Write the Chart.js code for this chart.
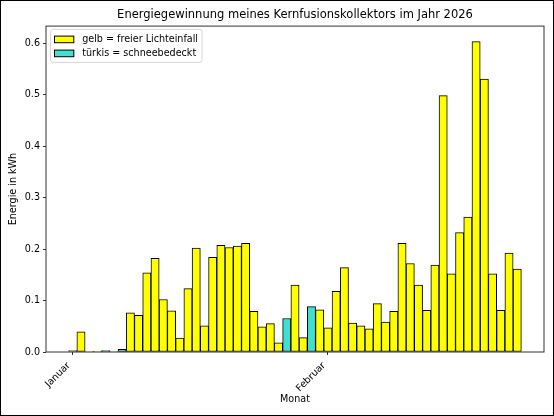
<!DOCTYPE html>
<html>
<head>
<meta charset="utf-8">
<script src="https://cdn.jsdelivr.net/npm/chart.js@4.4.1/dist/chart.umd.min.js"></script>
<style>
  html, body { margin: 0; padding: 0; background: #fff; }
  #wrap { width: 554px; height: 416px; }
</style>
</head>
<body>
<div id="wrap"><canvas id="chart" width="554" height="416"></canvas></div>
<script>
// Tagesertrag in kWh, erster Wert = 1. Januar 2026
const energy = [
  0.003, 0.039, 0.001, 0.0005, 0.003, 0.001, 0.005, 0.076, 0.071, 0.154,
  0.182, 0.102, 0.080, 0.027, 0.123, 0.202, 0.051, 0.184, 0.207, 0.203,
  0.206, 0.211, 0.079, 0.049, 0.055, 0.018, 0.065, 0.130, 0.028, 0.088,
  0.082, 0.047, 0.118, 0.164, 0.056, 0.051, 0.045, 0.094, 0.058, 0.079,
  0.211, 0.172, 0.130, 0.081, 0.169, 0.498, 0.152, 0.232, 0.262, 0.603,
  0.530, 0.152, 0.081, 0.192, 0.161
];
// Tage (Tag im Jahr), an denen der Kollektor eingeschneit war
const snowDays = [5, 7, 27, 30];
// Monatsbeschriftung der x-Achse
const monthDays = [1, 32];
const monthNames = ['Januar', 'Februar'];

const legendItems = [
  { label: 'gelb = freier Lichteinfall', color: '#ffff00' },
  { label: 'türkis = schneebedeckt', color: '#40e0d0' }
];

Chart.defaults.color = '#000';
Chart.defaults.font.family = "'DejaVu Sans', sans-serif";
Chart.defaults.font.size = 9.6;

const points = energy.map((v, i) => ({ x: i + 1, y: v }));
const barColors = energy.map((v, i) => snowDays.includes(i + 1) ? '#40e0d0' : '#ffff00');

// figure border, axes box and the legend in the upper left corner
const frame = {
  id: 'frame',
  afterDatasetsDraw(chart) {
    const { ctx, chartArea: a } = chart;
    ctx.save();
    ctx.strokeStyle = '#333';
    ctx.lineWidth = 1;
    ctx.strokeRect(a.left, a.top, a.right - a.left, a.bottom - a.top);
    ctx.restore();
  },
  afterDraw(chart) {
    const { ctx, chartArea: a } = chart;
    ctx.save();
    ctx.strokeStyle = '#000';
    ctx.lineWidth = 1;
    ctx.strokeRect(0.5, 0.5, chart.width - 1, chart.height - 1);

    // legend
    ctx.font = "9.6px 'DejaVu Sans', sans-serif";
    const textW = Math.max(...legendItems.map(it => ctx.measureText(it.label).width));
    const x0 = a.left + 4.5, y0 = a.top + 3.3;
    const w = 4 + 19.3 + 8.4 + textW + 4, h = 33;
    ctx.beginPath();
    ctx.roundRect(x0, y0, w, h, 2.5);
    ctx.fillStyle = 'rgba(255,255,255,0.8)';
    ctx.fill();
    ctx.strokeStyle = '#d6d6d6';
    ctx.stroke();
    legendItems.forEach((it, k) => {
      const cy = y0 + 10 + k * 14;
      ctx.fillStyle = it.color;
      ctx.fillRect(x0 + 4, cy - 3.3, 19.3, 6.6);
      ctx.strokeStyle = '#000';
      ctx.strokeRect(x0 + 4, cy - 3.3, 19.3, 6.6);
      ctx.fillStyle = '#000';
      ctx.textBaseline = 'middle';
      ctx.fillText(it.label, x0 + 31.7, cy);
    });
    ctx.restore();
  }
};

new Chart(document.getElementById('chart'), {
  type: 'bar',
  data: {
    datasets: [{
      data: points,
      backgroundColor: barColors,
      borderColor: '#000',
      borderWidth: 1,
      borderSkipped: false,
      barPercentage: 1,
      categoryPercentage: 1
    }]
  },
  options: {
    responsive: false,
    animation: false,
    devicePixelRatio: 1,
    layout: { padding: { left: 0, right: 10, top: 0, bottom: 0 } },
    plugins: {
      legend: { display: false },
      tooltip: { enabled: false },
      title: {
        display: true,
        text: 'Energiegewinnung meines Kernfusionskollektors im Jahr 2026',
        font: { size: 11.5, weight: 'normal' },
        color: '#000',
        fullSize: false,
        padding: { top: 8.3, bottom: 4 }
      }
    },
    scales: {
      x: {
        type: 'linear',
        offset: false,
        min: -2.25,
        max: 58.25,
        border: { display: false },
        grid: { display: true, drawOnChartArea: false, offset: false, tickLength: 3, tickColor: '#333' },
        afterBuildTicks: (scale) => { scale.ticks = monthDays.map(d => ({ value: d })); },
        afterFit: (scale) => { scale.height = 64; },
        ticks: {
          autoSkip: false,
          minRotation: 45,
          maxRotation: 45,
          padding: 5,
          labelOffset: -4,
          callback: (v) => monthNames[monthDays.indexOf(v)]
        },
        title: { display: true, text: 'Monat', font: { size: 9.6 }, padding: { top: 0, bottom: 11 } }
      },
      y: {
        min: 0,
        max: Math.max(...energy) * 1.05,
        border: { display: false },
        grid: { display: true, drawOnChartArea: false, tickLength: 3, tickColor: '#333' },
        afterFit: (scale) => { scale.width = 46; },
        ticks: {
          stepSize: 0.1,
          includeBounds: false,
          padding: 3,
          callback: (v) => v.toFixed(1)
        },
        title: { display: true, text: 'Energie in kWh', font: { size: 9.6 }, padding: { top: 8.2, bottom: 0 } }
      }
    }
  },
  plugins: [frame]
});
</script>
</body>
</html>
